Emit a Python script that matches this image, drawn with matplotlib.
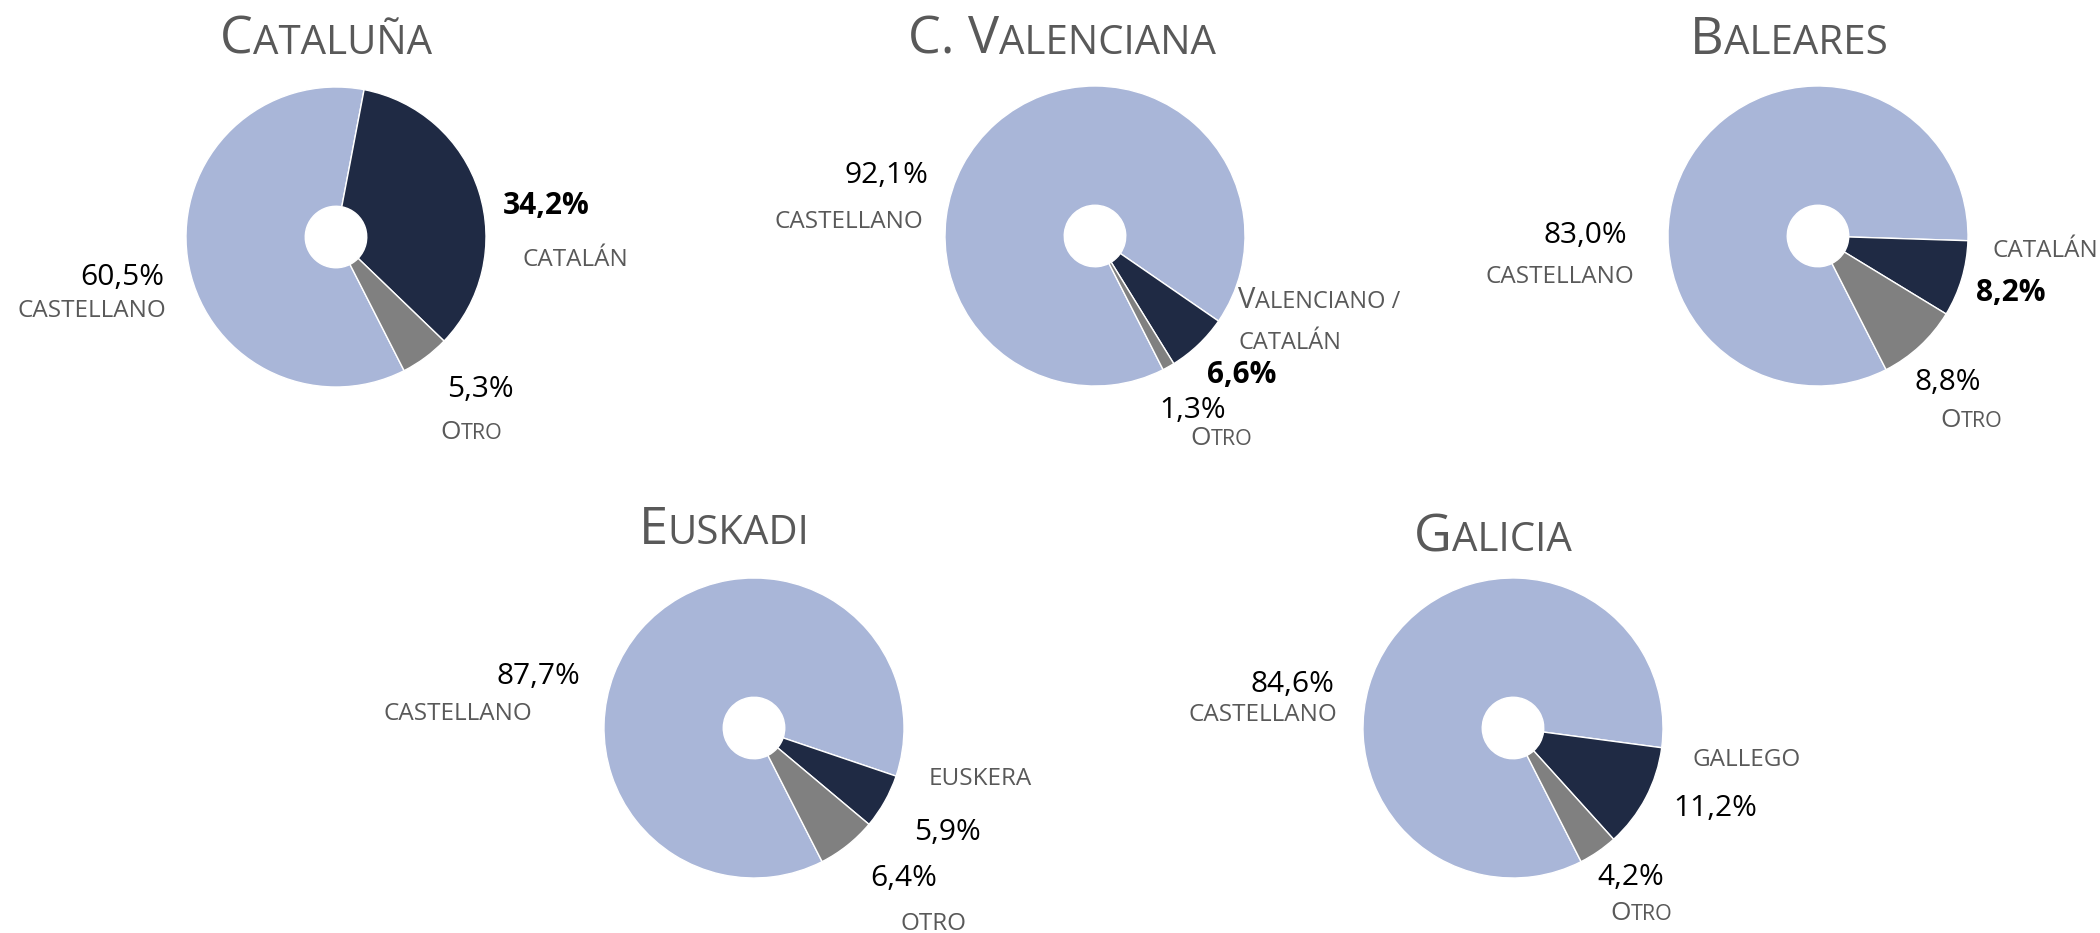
import matplotlib
matplotlib.use("Agg")
import matplotlib.pyplot as plt

# ---------------- data ----------------
regions = ["Cataluña", "C. Valenciana", "Baleares", "Euskadi", "Galicia"]
castellano = [60.5, 92.1, 83.0, 87.7, 84.6]
propia = [34.2, 6.6, 8.2, 5.9, 11.2]
otro = [5.3, 1.3, 8.8, 6.4, 4.2]
castellano_names = ["CASTELLANO"] * 5
propia_names = ["CATALÁN", "Valenciano /\ncatalán", "CATALÁN", "EUSKERA", "GALLEGO"]
otro_names = ["Otro", "Otro", "Otro", "OTRO", "Otro"]
propia_bold = [True, True, True, False, False]

# ---------------- style / layout ----------------
W, H, DPI = 2100, 933, 100
FONT = "Open Sans"
C_CAST, C_PROP, C_OTRO = "#A9B6D8", "#1F2A44", "#808080"
GRAY = "#595959"
START = 90 - 153          # first slice angle (clockwise from top)
HOLE = 0.205

centers = [(336, 237), (1095, 236), (1818, 236), (754, 728), (1513, 728)]
R = 150
title_pos = [(326, 54), (1062, 54), (1789, 54), (724, 544), (1493, 551)]
# (x, baseline y, ha) for pct and name of each slice
pos_cast_pct = [(164, 285, "right"), (928, 183, "right"), (1627, 243, "right"), (580, 684, "right"), (1334, 692, "right")]
pos_cast_lbl = [(166, 317, "right"), (923, 228, "right"), (1634, 283, "right"), (532, 720, "right"), (1337, 721, "right")]
pos_prop_pct = [(503, 214, "left"), (1207, 383, "left"), (1976, 301, "left"), (914, 840, "left"), (1673, 816, "left")]
pos_prop_lbl = [(523, 266, "left"), (1238, 308, "left"), (1992, 257, "left"), (929, 785, "left"), (1692, 766, "left")]
pos_otro_pct = [(447, 397, "left"), (1159, 418, "left"), (1915, 390, "left"), (870, 886, "left"), (1597, 885, "left")]
pos_otro_lbl = [(440, 439, "left"), (1190, 445, "left"), (1940, 427, "left"), (900, 930, "left"), (1610, 920, "left")]
prop_lbl_sizes = [(17.5, 14.5), (21, 17), (17.5, 14.5), (17.5, 14.5), (17.5, 14.5)]
otro_lbl_sizes = (19, 15.5)

TITLE_BIG, TITLE_SMALL = 37.5, 29
LBL_BIG, LBL_SMALL = 17.5, 14.0
PCT = 21.5
LINE_STEP = 41

fig = plt.figure(figsize=(W / DPI, H / DPI), dpi=DPI)
fig.patch.set_facecolor("white")
renderer = fig.canvas.get_renderer()


def fpos(x, y):
    return x / W, 1 - y / H


def sc_runs(s, big, small):
    """split string into small-caps runs: lowercase -> small uppercase."""
    runs = []
    for ch in s:
        if ch.islower():
            size, c = small, ch.upper()
        elif ch.isupper():
            size, c = big, ch
        else:
            size, c = (runs[-1][1] if runs else big), ch
        if runs and runs[-1][1] == size:
            runs[-1][0] += c
        else:
            runs.append([c, size])
    return runs


def rich(x, y, s, big, small, ha="left", color=GRAY, weight="normal"):
    for i, line in enumerate(s.split("\n")):
        runs = sc_runs(line, big, small)
        texts = [fig.text(0, 0, r, fontsize=sz, color=color, fontweight=weight,
                          fontfamily=FONT, va="baseline", ha="left") for r, sz in runs]
        widths = [t.get_window_extent(renderer).width for t in texts]
        total = sum(widths)
        x0 = x - total * {"left": 0, "center": 0.5, "right": 1}[ha]
        yy = y + i * LINE_STEP
        for t, w in zip(texts, widths):
            t.set_position(fpos(x0, yy))
            x0 += w


def fmt(v):
    return f"{v:.1f}%".replace(".", ",")


for i, reg in enumerate(regions):
    cx, cy = centers[i]
    ax = fig.add_axes([(cx - R) / W, (H - cy - R) / H, 2 * R / W, 2 * R / H])
    ax.pie([castellano[i], propia[i], otro[i]],
           colors=[C_CAST, C_PROP, C_OTRO],
           startangle=START, counterclock=False, radius=1,
           wedgeprops=dict(width=1 - HOLE, edgecolor="white", linewidth=1.0))
    ax.set_xlim(-1, 1)
    ax.set_ylim(-1, 1)
    ax.set_aspect("equal")
    ax.axis("off")

    tx, ty = title_pos[i]
    rich(tx, ty, reg, TITLE_BIG, TITLE_SMALL, ha="center", color=GRAY)

    x, y, ha = pos_cast_pct[i]
    rich(x, y, fmt(castellano[i]), PCT, PCT, ha=ha, color="black")
    x, y, ha = pos_cast_lbl[i]
    rich(x, y, castellano_names[i], LBL_BIG, LBL_SMALL, ha=ha)

    x, y, ha = pos_prop_pct[i]
    rich(x, y, fmt(propia[i]), PCT, PCT, ha=ha, color="black",
         weight="bold" if propia_bold[i] else "normal")
    x, y, ha = pos_prop_lbl[i]
    b, s = prop_lbl_sizes[i]
    rich(x, y, propia_names[i], b, s, ha=ha)

    x, y, ha = pos_otro_pct[i]
    rich(x, y, fmt(otro[i]), PCT, PCT, ha=ha, color="black")
    x, y, ha = pos_otro_lbl[i]
    b, s = otro_lbl_sizes if otro_names[i] != otro_names[i].upper() else (LBL_BIG, LBL_SMALL)
    rich(x, y, otro_names[i], b, s, ha=ha)

fig.savefig("out.png", dpi=DPI, facecolor="white")
